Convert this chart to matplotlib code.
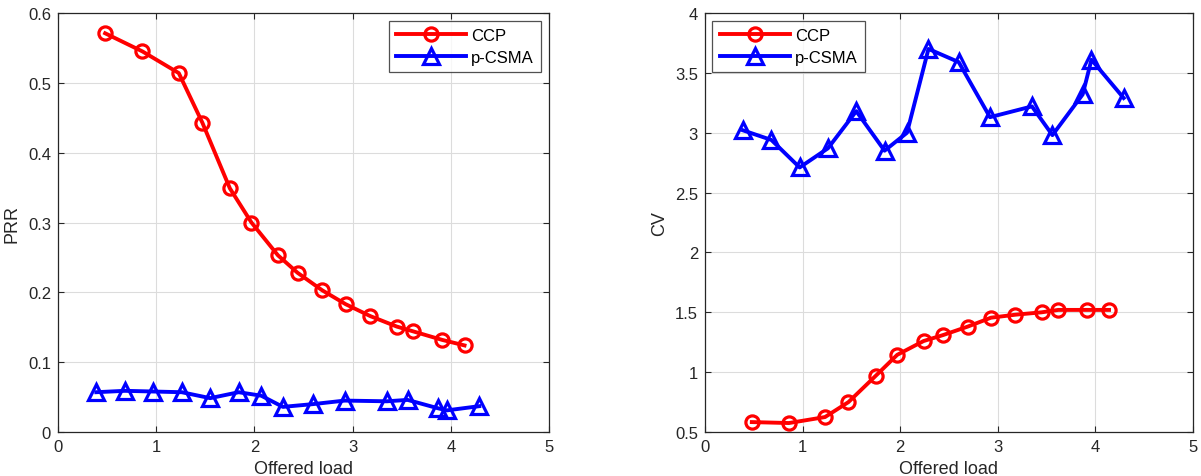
import matplotlib.pyplot as plt

plt.rcParams['font.family'] = ['Liberation Sans', 'DejaVu Sans']

# ---- du lieu doc tu hinh ----
ccp_x = [0.48, 0.86, 1.23, 1.47, 1.75, 1.97, 2.24, 2.44, 2.69, 2.93, 3.18, 3.45, 3.62, 3.91, 4.14]
ccp_prr = [0.571, 0.545, 0.514, 0.443, 0.349, 0.300, 0.253, 0.228, 0.203, 0.183, 0.166, 0.151, 0.144, 0.132, 0.124]
ccp_cv = [0.583, 0.575, 0.625, 0.75, 0.97, 1.145, 1.26, 1.31, 1.38, 1.455, 1.48, 1.50, 1.52, 1.52, 1.52]

csma_x = [0.39, 0.68, 0.97, 1.26, 1.55, 1.84, 2.07, 2.29, 2.60, 2.92, 3.35, 3.56, 3.87, 3.96, 4.29]
csma_prr = [0.057, 0.059, 0.058, 0.057, 0.0485, 0.057, 0.052, 0.036, 0.040, 0.045, 0.044, 0.046, 0.034, 0.031, 0.037]
csma_cv = [3.02, 2.94, 2.71, 2.87, 3.18, 2.85, 3.00, 3.70, 3.59, 3.13, 3.22, 2.98, 3.32, 3.61, 3.29]

x_ticks = [0, 1, 2, 3, 4, 5]
prr_ticks = [0, 0.1, 0.2, 0.3, 0.4, 0.5, 0.6]
cv_ticks = [0.5, 1, 1.5, 2, 2.5, 3, 3.5, 4]

fig = plt.figure(figsize=(12.01, 4.77), dpi=100)
ax1 = fig.add_axes([0.0483, 0.0922, 0.4088, 0.8784])
ax2 = fig.add_axes([0.5870, 0.0922, 0.4063, 0.8784])

def style(ax, ys, yticks, ylabel, loc):
    ax.plot(ccp_x, ys[0], color='red', lw=2.8, marker='o', ms=9.5,
            mfc='none', mew=2.3, label='CCP')
    ax.plot(csma_x, ys[1], color='blue', lw=2.8, marker='^', ms=11,
            mfc='none', mew=2.3, label='p-CSMA')
    ax.set_xlim(0, 5)
    ax.set_ylim(yticks[0], yticks[-1])
    ax.set_xticks(x_ticks)
    ax.set_yticks(yticks)
    ax.set_yticklabels([f'{t:g}' for t in yticks])
    ax.grid(True, color='#dcdcdc', lw=0.8)
    ax.set_axisbelow(True)
    ax.tick_params(direction='in', top=True, right=True, labelsize=12,
                   colors='#262626', length=4, pad=5)
    for s in ax.spines.values():
        s.set_color('#262626')
        s.set_linewidth(0.9)
    ax.set_xlabel('Offered load', fontsize=13, color='#262626', labelpad=4)
    ax.set_ylabel(ylabel, fontsize=13, color='#262626', labelpad=5)
    leg = ax.legend(loc=loc, fontsize=12, fancybox=False, handlelength=4.2,
                    borderpad=0.45, labelspacing=0.4, handletextpad=0.3,
                    borderaxespad=0.45)
    leg.get_frame().set_edgecolor('#262626')
    leg.get_frame().set_linewidth(0.9)

style(ax1, (ccp_prr, csma_prr), prr_ticks, 'PRR', 'upper right')
style(ax2, (ccp_cv, csma_cv), cv_ticks, 'CV', 'upper left')

fig.savefig('out.png', dpi=100)
